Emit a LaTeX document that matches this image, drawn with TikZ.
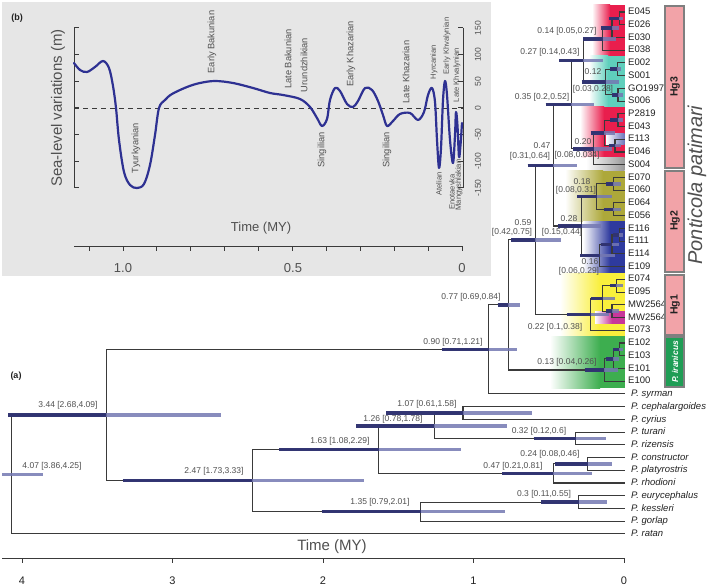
\documentclass[tikz,border=0pt]{standalone}
\usepackage{fontspec}
\setmainfont{Liberation Sans}
\usetikzlibrary{calc}
\definecolor{hgred}{HTML}{E91E4D}
\definecolor{hgteal}{HTML}{5FCFBC}
\definecolor{hgolive}{HTML}{ADA83A}
\definecolor{hgblue}{HTML}{2E3A9E}
\definecolor{hgyellow}{HTML}{F9EF3C}
\definecolor{hggreen}{HTML}{3DAE4F}
\definecolor{hgmag}{HTML}{C8379A}
\definecolor{hggray}{HTML}{9A9A9A}
\definecolor{boxpink}{HTML}{F2A3A8}
\definecolor{boxgreen}{HTML}{1F9D55}
\definecolor{boxedge}{HTML}{7F7F7F}
\definecolor{treeline}{HTML}{3A3A3A}
\definecolor{barlight}{HTML}{7478B2}
\definecolor{bardark}{HTML}{2A2D6C}
\definecolor{labgray}{HTML}{505050}
\definecolor{tipcol}{HTML}{222222}
\definecolor{insetbg}{HTML}{E6E6E6}
\definecolor{seablue}{HTML}{2E3192}
\newcommand\inode[4]{%
  \coordinate (m#1) at ($(#3)!0.5!(#4)$);
  \coordinate (x#1) at ({624-150.5*#2},0);
  \coordinate (#1) at (m#1 -| x#1);
  \draw[branch] (#3) -| (#1) |- (#4);
}
\newcommand\hpd[4]{%
  \draw[hpdlight] ($(#1)+({-150.5*(#4-#2)},0)$) -- ($(#1)+({150.5*(#2-#3)},0)$);
  \draw[hpddark] ($(#1)+({-150.5*(#4-#2)},0)$) -- (#1);
}
\newcommand\region[6]{% color, y0, y1, fade start, solid start
  \shade[left color=white, right color=#1] (#4,#2) rectangle (#5,#3);
  \fill[#1] (#5-0.3,#2) rectangle (624.5,#3);
}
\begin{document}
\begin{tikzpicture}[x=1pt,y=-1pt,
  branch/.style={draw=treeline, line width=1.1pt},
  hpdlight/.style={draw=barlight, line width=3.6pt, opacity=0.85},
  hpddark/.style={draw=bardark, line width=3.6pt, opacity=0.9},
  nlab/.style={font=\fontsize{8.5}{9}\selectfont, text=labgray, inner sep=0pt},
  tiplab/.style={font=\fontsize{9.5}{10}\selectfont, text=tipcol, inner sep=0pt, anchor=mid west},
  splab/.style={font=\fontsize{9.5}{10}\selectfont\itshape, text=tipcol, inner sep=0pt, anchor=mid west},
  stage/.style={font=\fontsize{9.3}{10}\selectfont, text=labgray, rotate=90, inner sep=0pt},
  sstage/.style={font=\fontsize{7.6}{8}\selectfont, text=labgray, rotate=90, inner sep=0pt},
  axisline/.style={draw=treeline, line width=1pt},
  hgbox/.style={draw=boxedge, line width=1.2pt, fill=boxpink},
  hgtext/.style={font=\fontsize{10.5}{11}\selectfont\bfseries, text=tipcol, rotate=90, inner sep=0pt}
]
\useasboundingbox (0,0) rectangle (709,588);
\fill[white] (0,0) rectangle (709,588);

% ---------------- inset (b) ----------------
\fill[insetbg] (2,2) rectangle (491,276);
\node[font=\fontsize{9}{10}\selectfont\bfseries, text=tipcol, inner sep=0pt] (blab) at (17,18) {(b)};
\draw[axisline] (74,28) -- (74,188);
\draw[axisline] (463,28) -- (463,188);
\foreach \yy in {28,54.67,81.33,108,134.67,161.33,188} {
  \draw[axisline] (74,\yy) -- (79,\yy);
  \draw[axisline] (463,\yy) -- (458,\yy);
}
\foreach \v/\yy [count=\k] in {150/28,100/54.67,50/81.33,0/108,-50/134.67,-100/161.33,-150/188}
  \node[font=\fontsize{8.5}{9}\selectfont, text=labgray, rotate=90, inner sep=0pt] (rt\k) at (478,\yy) {\v};
\node[font=\fontsize{15}{16}\selectfont, text=labgray, rotate=90, inner sep=0pt] (ylab) at (58,108) {Sea-level variations (m)};
\draw[treeline, line width=0.9pt, dash pattern=on 5pt off 4pt] (74,108) -- (463,108);
\draw[axisline] (74,246) -- (462,246);
\foreach \k in {0,...,11} \draw[axisline] ({462-33.9*\k},246) -- ({462-33.9*\k},251);
\node[font=\fontsize{13}{14}\selectfont, text=labgray, inner sep=0pt] (it1) at (123,268) {1.0};
\node[font=\fontsize{13}{14}\selectfont, text=labgray, inner sep=0pt] (it2) at (293,268) {0.5};
\node[font=\fontsize{13}{14}\selectfont, text=labgray, inner sep=0pt] (it3) at (462,268) {0};
\node[font=\fontsize{13}{14}\selectfont, text=labgray, inner sep=0pt] (itlab) at (261,228) {Time (MY)};
\draw[seablue, line width=2.2pt, line cap=round, line join=round] plot[smooth, tension=0.55] coordinates {
 (74,63) (80,70) (87,72) (95,67) (103,61) (109,68) (113,86) (116,108) (119,140) (124,172) (130,185) (137,188) (144,184) (150,165) (155,135) (159,108) (165,100) (172,94) (187,87) (200,83) (215,81) (233,83) (253,88) (270,93) (283,95) (300,99) (310,107) (317,118) (322,126) (327,119) (330,100) (335,88) (340,91) (347,104) (353,107) (358,101) (365,88) (372,90) (378,101) (383,115) (387,126) (393,121) (400,114) (410,113) (418,120) (424,112) (428,95) (432,88) (435,102) (437,140) (439,168) (441,148) (443,100) (445,81) (447,95) (450,140) (453,163) (455,135) (456,112) (457.5,126) (459,157) (460.5,145) (462,123)};
\node[stage] (s1) at (136,148) {Tyurkyanian};
\node[stage] (s2) at (212,42) {Early Bakunian};
\node[stage] (s3) at (288,59) {Late Bakunian};
\node[stage] (s4) at (304,65) {Urundzhikian};
\node[stage] (s5) at (322,150) {Singilian};
\node[stage] (s6) at (351,54) {Early Khazarian};
\node[stage] (s7) at (387,150) {Singilian};
\node[stage] (s8) at (406,72) {Late Khazarian};
\node[sstage] (s9) at (434,62) {Hyrcanian};
\node[sstage] (s10) at (447,46) {Early Khvalynian};
\node[sstage] (s11) at (457,75) {Late Khvalynian};
\node[sstage] (s12) at (439,184) {Atelian};
\node[sstage] (s13) at (452,192) {Enotaevka};
\node[sstage] (s14) at (459,185) {Mangyshlakian};

% ---------------- coloured clade backgrounds ----------------
\region{hgred}{5}{56}{592}{610}{}
\region{hgteal}{56}{107}{589}{608}{}
\region{hgred}{107}{158}{580}{604}{}
\shade[left color=white, right color=hgblue!70] (606,133.5) rectangle (624.5,145);
\shade[left color=white, right color=hggray] (586,158) rectangle (624.5,171);
\region{hgolive}{171}{221}{565}{603}{}
\region{hgblue}{221}{273}{583}{610}{}
\region{hgyellow}{273}{336}{560}{600}{}
\shade[left color=white, right color=hgmag] (595,311) rectangle (612,323.5);
\fill[hgmag] (611.7,311) rectangle (624.5,323.5);
\region{hggreen}{336}{388}{550}{600}{}

% ---------------- tips ----------------
\foreach \n [count=\i from 0] in {E045,E026,E030,E038,E002,S001,GO1997,S006,P2819,E043,E113,E046,S004,E070,E060,E064,E056,E116,E111,E114,E109,E074,E095,MW2564,MW2564,E073,E102,E103,E101,E100} {
  \coordinate (t\i) at (624.5,{12+12.73*\i});
  \node[tiplab] (L\i) at (628,{12+12.73*\i}) {\n};
}
\foreach \n [count=\i from 30] in {P. syrman,P. cephalargoides,P. cyrius,P. turani,P. rizensis,P. constructor,P. platyrostris,P. rhodioni,P. eurycephalus,P. kessleri,P. gorlap,P. ratan} {
  \coordinate (t\i) at (624.5,{12+12.73*\i});
  \node[splab] (L\i) at (631,{12+12.73*\i}) {\n};
}

% ---------------- tree ----------------
\inode{a1}{0.03}{t0}{t1}
\inode{a2}{0.08}{a1}{t2}
\inode{a3}{0.14}{a2}{t3}
\inode{b1}{0.045}{t4}{t5}
\inode{b2}{0.04}{t6}{t7}
\inode{b3}{0.12}{b1}{b2}
\inode{c27}{0.27}{a3}{b3}
\inode{c1}{0.04}{t8}{t9}
\inode{c2}{0.06}{t10}{t11}
\inode{c3}{0.13}{c1}{c2}
\inode{c20}{0.20}{c3}{t12}
\inode{c35}{0.35}{c27}{c20}
\inode{d1}{0.07}{t13}{t14}
\inode{d2}{0.07}{t15}{t16}
\inode{d18}{0.18}{d1}{d2}
\inode{e1}{0.03}{t17}{t18}
\inode{e2}{0.08}{e1}{t19}
\inode{e16}{0.16}{e2}{t20}
\inode{d28}{0.28}{d18}{e16}
\inode{c47}{0.47}{c35}{d28}
\inode{f1}{0.05}{t21}{t22}
\inode{f2}{0.08}{t23}{t24}
\inode{f3}{0.14}{f1}{f2}
\inode{f22}{0.22}{f3}{t25}
\inode{g59}{0.59}{c47}{f22}
\inode{h1}{0.03}{t26}{t27}
\inode{h2}{0.07}{h1}{t28}
\inode{h13}{0.13}{h2}{t29}
\inode{g77}{0.77}{g59}{h13}
\inode{g90}{0.90}{g77}{t30}
\inode{k107}{1.07}{t31}{t32}
\inode{k32}{0.32}{t33}{t34}
\inode{k126}{1.26}{k107}{k32}
\inode{k24}{0.24}{t35}{t36}
\inode{k47}{0.47}{k24}{t37}
\inode{k163}{1.63}{k126}{k47}
\inode{k30}{0.30}{t38}{t39}
\inode{k135}{1.35}{k30}{t40}
\inode{k247}{2.47}{k163}{k135}
\inode{r344}{3.44}{g90}{k247}
\inode{r407}{4.07}{r344}{t41}

% ---------------- HPD bars ----------------
\hpd{a1}{0.03}{0.01}{0.10}
\hpd{a2}{0.08}{0.03}{0.15}
\hpd{a3}{0.14}{0.05}{0.27}
\hpd{b1}{0.045}{0.02}{0.09}
\hpd{b2}{0.04}{0.01}{0.08}
\hpd{b3}{0.12}{0.03}{0.28}
\hpd{c27}{0.27}{0.14}{0.43}
\hpd{c1}{0.04}{0.01}{0.09}
\hpd{c2}{0.06}{0.02}{0.10}
\hpd{c3}{0.13}{0.06}{0.22}
\hpd{c20}{0.20}{0.08}{0.34}
\hpd{c35}{0.35}{0.20}{0.52}
\hpd{d1}{0.07}{0.02}{0.12}
\hpd{d2}{0.07}{0.02}{0.13}
\hpd{d18}{0.18}{0.08}{0.31}
\hpd{e1}{0.03}{0.01}{0.07}
\hpd{e2}{0.08}{0.03}{0.15}
\hpd{e16}{0.16}{0.06}{0.29}
\hpd{d28}{0.28}{0.15}{0.44}
\hpd{c47}{0.47}{0.31}{0.64}
\hpd{f1}{0.05}{0.01}{0.09}
\hpd{f2}{0.08}{0.03}{0.12}
\hpd{f3}{0.14}{0.06}{0.22}
\hpd{f22}{0.22}{0.10}{0.38}
\hpd{g59}{0.59}{0.42}{0.75}
\hpd{h1}{0.03}{0.01}{0.07}
\hpd{h2}{0.07}{0.03}{0.12}
\hpd{h13}{0.13}{0.04}{0.26}
\hpd{g77}{0.77}{0.69}{0.84}
\hpd{g90}{0.90}{0.71}{1.21}
\hpd{k107}{1.07}{0.61}{1.58}
\hpd{k32}{0.32}{0.12}{0.60}
\hpd{k126}{1.26}{0.78}{1.78}
\hpd{k24}{0.24}{0.08}{0.46}
\hpd{k47}{0.47}{0.21}{0.81}
\hpd{k163}{1.63}{1.08}{2.29}
\hpd{k30}{0.30}{0.11}{0.55}
\hpd{k135}{1.35}{0.79}{2.01}
\hpd{k247}{2.47}{1.73}{3.33}
\hpd{r344}{3.44}{2.68}{4.09}
\draw[hpdlight] (2,0 |- r407) -- ($(r407)+({150.5*(4.07-3.86)},0)$);

% ---------------- node labels ----------------
\node[nlab] (l1) at (567,31) {0.14 [0.05,0.27]};
\node[nlab] (l2) at (550,52) {0.27 [0.14,0.43]};
\node[nlab] (l3) at (593,72) {0.12};
\node[nlab] (l4) at (593,89) {[0.03,0.28]};
\node[nlab] (l5) at (542,97) {0.35 [0.2,0.52]};
\node[nlab] (l6) at (542,146) {0.47};
\node[nlab] (l7) at (530,156) {[0.31,0.64]};
\node[nlab] (l8) at (583,142) {0.20};
\node[nlab] (l9) at (577,155) {[0.08,0.034]};
\node[nlab] (l10) at (582,182) {0.18};
\node[nlab] (l11) at (576,190) {[0.08,0.31]};
\node[nlab] (l12) at (569,219) {0.28};
\node[nlab] (l13) at (562,232) {[0.15,0.44]};
\node[nlab] (l14) at (590,262) {0.16};
\node[nlab] (l15) at (579,271) {[0.06,0.29]};
\node[nlab] (l16) at (523,223) {0.59};
\node[nlab] (l17) at (512,232) {[0.42,0.75]};
\node[nlab] (l18) at (555,327) {0.22 [0.1,0.38]};
\node[nlab] (l19) at (471,297) {0.77 [0.69,0.84]};
\node[nlab] (l20) at (567,362) {0.13 [0.04,0.26]};
\node[nlab] (l21) at (453,342) {0.90 [0.71,1.21]};
\node[nlab] (l22) at (427,404) {1.07 [0.61,1.58]};
\node[nlab] (l23) at (393,419) {1.26 [0.78,1.78]};
\node[nlab] (l24) at (539,431) {0.32 [0.12,0.6]};
\node[nlab] (l25) at (550,454) {0.24 [0.08,0.46]};
\node[nlab] (l26) at (513,466) {0.47 [0.21,0.81]};
\node[nlab] (l27) at (340,441) {1.63 [1.08,2.29]};
\node[nlab] (l28) at (544,494) {0.3 [0.11,0.55]};
\node[nlab] (l29) at (380,502) {1.35 [0.79,2.01]};
\node[nlab] (l30) at (214,471) {2.47 [1.73,3.33]};
\node[nlab] (l31) at (68,405) {3.44 [2.68,4.09]};
\node[nlab] (l32) at (52,466) {4.07 [3.86,4.25]};
\node[font=\fontsize{9}{10}\selectfont\bfseries, text=tipcol, inner sep=0pt] (alab) at (16,376) {(a)};

% ---------------- main time axis ----------------
\draw[axisline] (2,558) -- (625,558);
\foreach \k in {0,...,4} {
  \draw[axisline] ({624-150.5*\k},558) -- ({624-150.5*\k},563);
  \node[font=\fontsize{11}{12}\selectfont, text=tipcol, inner sep=0pt] (ax\k) at ({624-150.5*\k},581) {\k};
}
\node[font=\fontsize{15}{16}\selectfont, text=labgray, inner sep=0pt] (tlab) at (332,547) {Time (MY)};

% ---------------- haplogroup boxes ----------------
\draw[hgbox] (665,6) rectangle (684,168);
\draw[hgbox] (665,171) rectangle (684,272);
\draw[hgbox] (665,275) rectangle (684,335);
\draw[hgbox, fill=boxgreen] (665,337) rectangle (684,387);
\node[hgtext] (hg3) at (675,87) {Hg3};
\node[hgtext] (hg2) at (675,221) {Hg2};
\node[hgtext] (hg1) at (675,305) {Hg1};
\node[font=\fontsize{8.5}{9}\selectfont\bfseries\itshape, text=white, rotate=90, inner sep=0pt] (iran) at (675,362) {P. iranicus};
\node[font=\fontsize{20}{22}\selectfont\itshape, text=labgray, rotate=90, inner sep=0pt] (pat) at (697,185) {Ponticola patimari};
\end{tikzpicture}
\end{document}
